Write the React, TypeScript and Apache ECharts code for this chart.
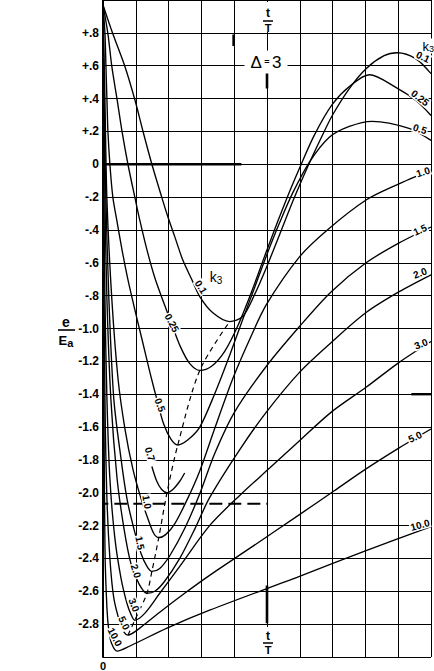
import React, { useEffect, useRef } from "react";
import * as echarts from "echarts";

type Pt = [number, number];

// x: t/T in grid divisions, y: e/Ea
const curveK01: Pt[] = [[0,0.97],[0.30,0.794],[0.67,0.594],[0.97,0.394],[1.22,0.2],[1.49,0],[1.79,-0.2],[1.98,-0.321],[2.19,-0.442],[2.43,-0.582],[2.71,-0.703],[2.95,-0.806],[3.34,-0.903],[3.86,-0.958],[4.26,-0.927],[4.62,-0.794],[4.98,-0.63],[5.38,-0.43],[5.84,-0.2],[6.26,-0.006],[6.66,0.164],[6.99,0.297],[7.51,0.461],[8.02,0.582],[8.57,0.661],[8.97,0.679],[9.54,0.642],[10,0.552]];
const curveK025: Pt[] = [[0,0.97],[0.15,0.794],[0.27,0.594],[0.43,0.394],[0.58,0.2],[0.76,0],[0.97,-0.2],[1.12,-0.339],[1.34,-0.521],[1.58,-0.691],[1.85,-0.842],[2.1,-0.976],[2.37,-1.115],[2.64,-1.212],[2.95,-1.255],[3.31,-1.23],[3.71,-1.139],[4.1,-0.988],[4.53,-0.776],[4.92,-0.564],[5.32,-0.352],[5.68,-0.17],[5.99,-0.024],[6.44,0.176],[6.99,0.364],[7.51,0.473],[8.12,0.545],[8.94,0.467],[9.54,0.388],[10,0.297]];
const curveK05: Pt[] = [[0,0.97],[0.06,0.794],[0.09,0.594],[0.12,0.394],[0.15,0.2],[0.21,0],[0.3,-0.2],[0.43,-0.352],[0.58,-0.521],[0.76,-0.703],[0.97,-0.885],[1.19,-1.067],[1.43,-1.267],[1.64,-1.43],[1.85,-1.582],[2.07,-1.673],[2.28,-1.709],[2.58,-1.679],[2.95,-1.6],[3.4,-1.4],[3.86,-1.164],[4.26,-0.945],[4.62,-0.752],[4.98,-0.558],[5.38,-0.358],[5.78,-0.176],[6.29,0.012],[6.9,0.164],[7.51,0.23],[8.21,0.261],[9.33,0.218],[10,0.145]];
const curveK07: Pt[] = [[1.49,-1.84],[1.64,-1.93],[1.79,-1.98],[1.95,-2.0],[2.13,-1.98],[2.34,-1.93],[2.49,-1.88]];
const curveK10: Pt[] = [[0,0.97],[0.06,0.388],[0.12,-0.218],[0.27,-0.824],[0.46,-1.309],[0.67,-1.612],[0.91,-1.855],[1.16,-2.036],[1.37,-2.158],[1.55,-2.248],[1.7,-2.273],[1.91,-2.255],[2.19,-2.188],[2.58,-2.036],[2.95,-1.867],[3.4,-1.612],[3.95,-1.309],[4.47,-1.067],[4.98,-0.855],[5.99,-0.564],[6.84,-0.4],[8.02,-0.218],[8.94,-0.127],[10,-0.036]];
const curveK15: Pt[] = [[0,0.97],[0.03,0.388],[0.09,-0.218],[0.18,-0.824],[0.33,-1.43],[0.55,-1.794],[0.73,-2.036],[0.94,-2.218],[1.16,-2.37],[1.34,-2.448],[1.49,-2.479],[1.73,-2.461],[2.04,-2.382],[2.49,-2.218],[2.95,-2.006],[3.4,-1.764],[4.01,-1.509],[4.98,-1.23],[5.99,-0.988],[6.96,-0.776],[8.02,-0.6],[9.03,-0.479],[10,-0.382]];
const curveK20: Pt[] = [[0,0.97],[0.03,0.388],[0.06,-0.218],[0.12,-0.824],[0.24,-1.43],[0.43,-1.915],[0.64,-2.218],[0.85,-2.43],[1.09,-2.552],[1.34,-2.612],[1.58,-2.6],[1.88,-2.539],[2.34,-2.4],[2.8,-2.22],[3.25,-2.03],[4.16,-1.74],[4.98,-1.509],[5.99,-1.267],[6.96,-1.085],[8.02,-0.903],[9.03,-0.776],[10,-0.673]];
const curveK30: Pt[] = [[0,0.97],[0.015,0.388],[0.03,-0.218],[0.06,-0.824],[0.12,-1.43],[0.21,-1.915],[0.36,-2.273],[0.55,-2.521],[0.73,-2.673],[0.85,-2.739],[0.97,-2.776],[1.28,-2.733],[1.73,-2.612],[2.34,-2.448],[3.25,-2.2],[4.16,-2.018],[5.08,-1.85],[5.9,-1.7],[6.96,-1.509],[8.02,-1.358],[9.03,-1.206],[10,-1.079]];
const curveK50: Pt[] = [[0,0.97],[0.015,-0.218],[0.06,-1.43],[0.12,-2.036],[0.21,-2.4],[0.33,-2.642],[0.52,-2.794],[0.64,-2.848],[0.76,-2.867],[1.12,-2.824],[1.73,-2.727],[2.49,-2.612],[3.25,-2.503],[4.47,-2.339],[5.99,-2.133],[7.05,-1.988],[8.02,-1.855],[9.03,-1.727],[10,-1.612]];
const curveK100: Pt[] = [[0,0.97],[0.005,-0.218],[0.03,-1.43],[0.06,-2.339],[0.12,-2.703],[0.18,-2.842],[0.27,-2.921],[0.43,-2.964],[0.82,-2.933],[1.95,-2.824],[3.25,-2.715],[5.99,-2.509],[8.02,-2.352],[10,-2.206]];
const minimaLocus: Pt[] = [[0.76,-2.867],[0.97,-2.776],[1.34,-2.612],[1.49,-2.479],[1.7,-2.273],[1.95,-2.0],[2.28,-1.709],[2.95,-1.255],[3.86,-0.958]];
const zeroSegment: Pt[] = [[0,0],[4.22,0]];
const referenceLevel: Pt[] = [[-3.13,-2.067],[5,-2.067]];
const tickMarkBottom: Pt[] = [[5,-2.564],[5,-2.794]];
const tickMarkTop: Pt[] = [[5,0.588],[5,0.461]];
const tickMarkUpper: Pt[] = [[3.98,0.79],[3.98,0.72]];
const tickMarkRight: Pt[] = [[9.4,-1.4],[10,-1.4]];

const yTickValues = [0.8,0.6,0.4,0.2,0,-0.2,-0.4,-0.6,-0.8,-1.0,-1.2,-1.4,-1.6,-1.8,-2.0,-2.2,-2.4,-2.6,-2.8];
const yTickLabels = ["+.8","+.6","+.4","+.2","0","-.2","-.4","-.6","-.8","-1.0","-1.2","-1.4","-1.6","-1.8","-2.0","-2.2","-2.4","-2.6","-2.8"];

const curves = [
  { k: "0.1", data: curveK01 },
  { k: "0.25", data: curveK025 },
  { k: "0.5", data: curveK05 },
  { k: "0.7", data: curveK07 },
  { k: "1.0", data: curveK10 },
  { k: "1.5", data: curveK15 },
  { k: "2.0", data: curveK20 },
  { k: "3.0", data: curveK30 },
  { k: "5.0", data: curveK50 },
  { k: "10.0", data: curveK100 },
];

const rightLabelSpots = [
  { k: "0.1", x: 423, y: 57, deg: -25 },
  { k: "0.25", x: 420, y: 98, deg: -38 },
  { k: "0.5", x: 420, y: 129, deg: -18 },
  { k: "1.0", x: 423, y: 172, deg: 18 },
  { k: "1.5", x: 420, y: 230, deg: 25 },
  { k: "2.0", x: 420, y: 273, deg: 20 },
  { k: "3.0", x: 421, y: 344, deg: 22 },
  { k: "5.0", x: 415, y: 437, deg: 25 },
  { k: "10.0", x: 420, y: 525, deg: 15 },
];
const leftLabelSpots = [
  { k: "0.1", x: 201, y: 287, deg: -58 },
  { k: "0.25", x: 172, y: 323, deg: -62 },
  { k: "0.5", x: 160, y: 405, deg: -70 },
  { k: "0.7", x: 150, y: 454, deg: -72 },
  { k: "1.0", x: 147, y: 502, deg: -80 },
  { k: "1.5", x: 140, y: 543, deg: -78 },
  { k: "2.0", x: 136, y: 571, deg: -72 },
  { k: "3.0", x: 134, y: 605, deg: -68 },
  { k: "5.0", x: 124, y: 623, deg: -65 },
  { k: "10.0", x: 115, y: 637, deg: -62 },
];

const FONT = "'Liberation Sans', 'DejaVu Sans', sans-serif";

function segment(data: Pt[], width: number, extra: any = {}) {
  return {
    type: "line",
    data,
    showSymbol: false,
    silent: true,
    lineStyle: { color: "#000", width, ...(extra.lineStyle || {}) },
    clip: extra.clip !== undefined ? extra.clip : true,
    z: 3,
  };
}

export default function App() {
  const ref = useRef<HTMLDivElement>(null);
  useEffect(() => {
    if (!ref.current) return;
    const chart = echarts.init(ref.current, undefined, { renderer: "svg" });
    const labelText = (s: { k: string; x: number; y: number; deg: number }, size: number) => ({
      type: "text",
      x: s.x,
      y: s.y,
      rotation: (s.deg * Math.PI) / 180,
      z: 20,
      style: {
        text: s.k,
        fill: "#000",
        font: `bold ${size}px ${FONT}`,
        align: "center",
        verticalAlign: "middle",
        backgroundColor: "#fff",
        padding: [0, 1],
      },
    });
    const option: any = {
      animation: false,
      backgroundColor: "#fff",
      grid: { left: 103, right: 2, top: 0, bottom: 12 },
      xAxis: {
        type: "value",
        min: 0,
        max: 10,
        interval: 1,
        axisLine: { show: false },
        axisTick: { show: false },
        splitLine: { show: true, lineStyle: { color: "#000", width: 1 } },
        axisLabel: {
          showMinLabel: true,
          formatter: (v: number) => (v === 0 ? "0" : ""),
          margin: 3,
          color: "#000",
          fontSize: 11,
          fontFamily: FONT,
          fontWeight: "bold",
        },
      },
      yAxis: {
        type: "value",
        min: -3,
        max: 1,
        interval: 0.2,
        axisLine: { show: true, onZero: false, lineStyle: { color: "#000", width: 2 } },
        axisTick: { show: false },
        splitLine: { show: true, lineStyle: { color: "#000", width: 1 } },
        axisLabel: {
          formatter: (v: number) => {
            const r = Math.round(v * 10) / 10;
            const i = yTickValues.findIndex((t) => Math.abs(t - r) < 1e-6);
            return i >= 0 ? yTickLabels[i] : "";
          },
          margin: 4,
          color: "#000",
          fontSize: 12,
          fontFamily: FONT,
          fontWeight: "bold",
        },
      },
      series: [
        ...curves.map((c) => ({
          type: "line",
          name: c.k,
          data: c.data,
          showSymbol: false,
          smooth: 0.3,
          silent: true,
          lineStyle: { color: "#000", width: 1.35 },
          z: 4,
        })),
        {
          type: "line",
          data: minimaLocus,
          showSymbol: false,
          smooth: 0.3,
          silent: true,
          lineStyle: { color: "#000", width: 1.2, type: [5, 4] },
          z: 4,
        },
        segment(zeroSegment, 2.6),
        segment(referenceLevel, 2, { clip: false, lineStyle: { type: [13, 6] } }),
        segment(tickMarkBottom, 2.6),
        segment(tickMarkTop, 2.6),
        segment(tickMarkUpper, 2.4),
        segment(tickMarkRight, 2.4),
      ],
      graphic: [
        { type: "text", x: 66, y: 322, z: 20, style: { text: "e", font: `bold 14px ${FONT}`, fill: "#000", align: "center", verticalAlign: "middle" } },
        { type: "line", z: 20, shape: { x1: 58, y1: 330, x2: 75, y2: 330 }, style: { stroke: "#000", lineWidth: 1.6 } },
        {
          type: "text", x: 66, y: 340, z: 20,
          style: {
            text: "{E|E}{a|a}", align: "center", verticalAlign: "middle", fill: "#000",
            rich: { E: { font: `bold 13px ${FONT}`, fill: "#000" }, a: { font: `bold 11px ${FONT}`, fill: "#000", padding: [5, 0, 0, 0] } },
          },
        },
        { type: "rect", z: 19, shape: { x: 261, y: 2, width: 14, height: 30 }, style: { fill: "#fff" } },
        { type: "text", x: 268, y: 13, z: 20, style: { text: "t", font: `bold 12px ${FONT}`, fill: "#000", align: "center", verticalAlign: "middle" } },
        { type: "line", z: 20, shape: { x1: 263, y1: 21, x2: 273, y2: 21 }, style: { stroke: "#000", lineWidth: 1.5 } },
        { type: "text", x: 268, y: 28, z: 20, style: { text: "T", font: `bold 11px ${FONT}`, fill: "#000", align: "center", verticalAlign: "middle" } },
        { type: "rect", z: 19, shape: { x: 261, y: 627, width: 14, height: 30 }, style: { fill: "#fff" } },
        { type: "text", x: 268, y: 636, z: 20, style: { text: "t", font: `bold 12px ${FONT}`, fill: "#000", align: "center", verticalAlign: "middle" } },
        { type: "line", z: 20, shape: { x1: 263, y1: 643, x2: 273, y2: 643 }, style: { stroke: "#000", lineWidth: 1.5 } },
        { type: "text", x: 268, y: 650, z: 20, style: { text: "T", font: `bold 11px ${FONT}`, fill: "#000", align: "center", verticalAlign: "middle" } },
        {
          type: "text", x: 266, y: 62, z: 20,
          style: {
            text: "{d|Δ}{e| = }{d|3}", align: "center", verticalAlign: "middle", fill: "#000",
            backgroundColor: "#fff", padding: [3, 6],
            rich: { d: { font: `17px ${FONT}`, fill: "#000" }, e: { font: `bold 9px ${FONT}`, fill: "#000" } },
          },
        },
        {
          type: "text", x: 434, y: 46, z: 20,
          style: { text: "{k|k}{s|3}", align: "right", verticalAlign: "middle", fill: "#000", backgroundColor: "#fff",
            rich: { k: { font: `13px ${FONT}`, fill: "#000" }, s: { font: `9px ${FONT}`, fill: "#000", padding: [6, 0, 0, 0] } } },
        },
        {
          type: "text", x: 216, y: 277, z: 20,
          style: { text: "{k|k}{s|3}", align: "center", verticalAlign: "middle", fill: "#000",
            rich: { k: { font: `14px ${FONT}`, fill: "#000" }, s: { font: `10px ${FONT}`, fill: "#000", padding: [6, 0, 0, 0] } } },
        },
        ...rightLabelSpots.map((s) => labelText(s, 10)),
        ...leftLabelSpots.map((s) => labelText(s, 10)),
      ],
    };
    chart.setOption(option);
    return () => chart.dispose();
  }, []);
  return (
    <div
      ref={ref}
      style={{ position: "fixed", left: 0, top: 0, width: 434, height: 671, background: "#fff" }}
    />
  );
}
